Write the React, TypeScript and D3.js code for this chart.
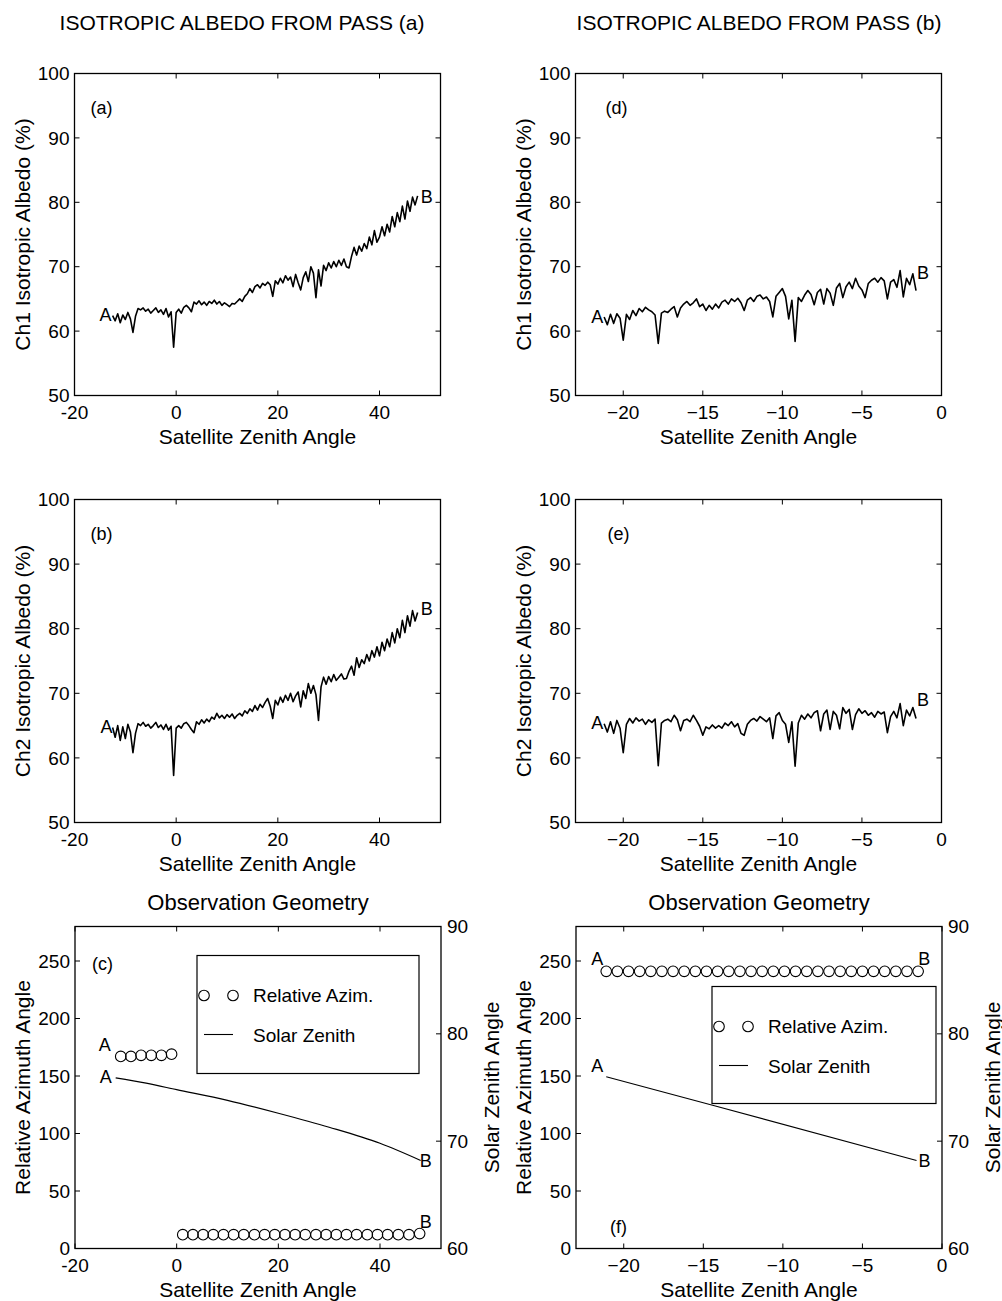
import React from "react";
import * as d3 from "d3";

const FONT = "'Liberation Sans', Arial, Helvetica, sans-serif";

// ---------- Pass (a): satellite zenith sampling ----------
const passAStart = -12.5;
const passAStep = 0.5;
const ch1PassA = [
  62.4, 61.6, 62.7, 61.3, 62.5, 61.8, 62.9, 61.9, 59.8, 62.3,
  63.5, 63.3, 63.6, 63.1, 63.4, 62.8, 63.2, 63.6, 62.9, 63.3,
  62.6, 63.5, 62.2, 63.0, 57.5, 62.9, 63.4, 62.8, 63.7, 64.0,
  63.6, 63.0, 64.5, 64.2, 64.7, 64.1, 64.5, 64.0, 64.6, 64.3,
  64.8, 64.2, 64.6, 64.0, 64.4, 64.1, 63.8, 64.3, 64.2, 64.6,
  65.0, 64.6, 65.4, 65.8, 66.6, 66.0, 66.9, 67.2, 66.7, 67.4,
  67.1, 67.6, 67.2, 65.4, 67.8, 67.3, 68.2, 67.5, 68.6, 67.9,
  68.4, 66.9, 68.8, 67.5, 66.4, 68.3, 69.2, 67.7, 70.0, 69.0,
  65.2, 69.5, 67.0, 70.2, 69.4, 70.6, 69.8, 70.8, 70.0, 71.0,
  70.2, 71.2, 70.0, 69.8, 71.6, 73.0, 71.8, 73.2, 72.4, 73.6,
  72.8, 74.6, 73.4, 75.6, 73.8, 74.6, 76.2, 74.8, 76.6, 75.4,
  77.8, 76.2, 78.4, 77.0, 79.4, 77.4, 80.2, 78.6, 80.8, 79.6, 81.0,
];
const ch2PassA = [
  64.7, 63.2, 65.0, 62.7, 64.8, 63.0, 65.2, 64.0, 60.8, 63.8,
  65.3, 65.0, 65.5, 64.9, 65.2, 64.6, 65.0, 65.5, 64.7, 65.1,
  64.4, 65.2, 64.3, 64.9, 57.3, 64.6, 65.0, 64.6, 65.3, 65.5,
  65.0, 64.4, 63.9, 65.6, 65.2, 65.9, 65.4, 66.0, 65.6, 66.3,
  66.0, 66.9, 66.2, 66.6, 66.1, 66.7, 66.3, 66.8, 66.1, 66.6,
  66.9, 66.5, 67.3, 66.9, 67.6, 67.2, 68.1, 67.4, 68.3, 67.8,
  68.6, 69.2, 68.0, 66.1, 68.9, 68.2, 69.4, 68.6, 69.7, 68.9,
  70.0, 68.7, 69.6, 70.2, 67.9, 70.4, 69.2, 71.5, 70.0, 71.2,
  69.8, 65.8, 71.0, 72.5, 71.4, 72.6, 71.8, 72.9, 72.0, 72.5,
  73.0, 72.2, 72.3, 73.4, 74.2, 72.8, 75.5, 74.0, 75.2, 74.6,
  76.0, 75.0, 76.6, 75.6, 77.2, 75.8, 77.9, 76.6, 78.4, 77.2,
  79.4, 77.8, 80.0, 78.6, 81.3, 79.4, 82.0, 80.4, 82.8, 81.2, 82.5,
];

// ---------- Pass (b) ----------
const passBStart = -21.2;
const passBStep = 0.2;
const ch1PassB = [
  62.2, 61.0, 62.6, 61.2, 62.7, 62.0, 58.6, 62.6, 61.8, 63.2,
  62.4, 63.5, 63.0, 63.7, 63.3, 63.0, 62.5, 58.1, 62.8, 63.1,
  62.9, 63.4, 63.8, 62.2, 63.6, 64.2, 64.6, 64.0, 64.4, 65.0,
  63.8, 64.2, 63.2, 64.0, 63.4, 64.2, 63.6, 64.5, 64.8, 64.2,
  65.0, 64.6, 65.1, 64.4, 63.2, 64.8, 65.2, 64.6, 65.4, 65.6,
  65.0, 65.3, 64.6, 62.2, 65.4, 66.0, 66.6, 65.4, 61.9, 64.8,
  58.4, 65.2, 64.6, 65.6, 66.3, 65.7, 64.1, 66.0, 66.5, 64.2,
  66.6, 65.9, 64.0, 66.7, 67.4, 65.2, 66.9, 67.6, 66.6, 68.2,
  67.0, 66.4, 65.2, 67.4, 67.9, 68.2, 67.6, 68.3, 67.8, 65.0,
  67.6, 68.0, 66.8, 69.4, 65.3, 68.2, 67.2, 68.9, 66.3,
];
const ch2PassB = [
  65.3, 64.0, 65.6, 63.8, 65.8, 64.6, 60.8, 65.2, 66.1, 65.4,
  66.2, 65.7, 66.0, 65.2, 65.9, 65.5, 66.0, 58.8, 65.4, 65.8,
  66.0, 65.6, 66.6, 65.9, 64.2, 65.8, 66.0, 65.6, 66.6, 65.8,
  64.9, 63.5, 64.8, 64.5, 65.1, 64.6, 65.0, 64.6, 65.4, 65.0,
  65.6, 64.8, 65.3, 63.8, 63.5, 65.2, 65.8, 66.1, 65.7, 66.4,
  66.0, 65.6, 66.2, 63.0, 66.5, 67.0, 65.8, 65.2, 62.4, 65.6,
  58.7, 65.4, 66.6, 66.0, 66.8, 66.2, 67.0, 67.3, 64.2, 66.8,
  67.4, 64.4, 67.2, 66.6, 64.5, 67.8, 66.9, 67.5, 64.4, 66.7,
  67.6, 66.9, 67.3, 66.6, 67.0, 66.3, 67.2, 66.8, 67.1, 63.9,
  66.4, 67.2, 66.2, 68.4, 65.0, 67.4, 66.5, 67.8, 66.1,
];

// ---------- Observation geometry ----------
const solarA_x = [-12, -6, 0, 10, 20, 30, 40, 48];
const solarA_y = [75.9, 75.4, 74.8, 73.8, 72.6, 71.3, 69.8, 68.2];
const solarB_x = [-21.1, -14.3, -1.6];
const solarB_y = [76.0, 73.3, 68.2];

const azimA1_x = [-11, -9, -7, -5, -3, -1];
const azimA1_y = [167, 167, 168, 168, 168, 169];
const azimA2_x = [
  1.2, 3.2, 5.2, 7.2, 9.2, 11.2, 13.2, 15.3, 17.3, 19.3, 21.3, 23.3,
  25.3, 27.4, 29.4, 31.4, 33.4, 35.4, 37.5, 39.5, 41.5, 43.6, 45.7, 47.8,
];
const azimA2_y = [
  12, 12, 12, 12, 12, 12, 12, 12, 12, 12, 12, 12,
  12, 12, 12, 12, 12, 12, 12, 12, 12, 12, 12, 13,
];
const azimB_x = [
  -21.1, -20.4, -19.7, -19.0, -18.3, -17.6, -16.9, -16.2, -15.5, -14.8,
  -14.1, -13.4, -12.7, -12.0, -11.3, -10.6, -9.9, -9.2, -8.5, -7.8,
  -7.1, -6.4, -5.7, -5.0, -4.3, -3.6, -2.9, -2.2, -1.5,
];
const azimB_y = [
  241, 241, 241, 241, 241, 241, 241, 241, 241, 241,
  241, 241, 241, 241, 241, 241, 241, 241, 241, 241,
  241, 241, 241, 241, 241, 241, 241, 241, 241,
];

// ---------- Ticks ----------
const xTicksPassA = [-20, 0, 20, 40];
const xTicksPassB = [-20, -15, -10, -5, 0];
const albedoTicks = [50, 60, 70, 80, 90, 100];
const azimTicks = [0, 50, 100, 150, 200, 250];
const solarTicks = [60, 70, 80, 90];

type Box = { l: number; r: number; t: number; b: number };

const COL_A = { l: 74.5, r: 440.5 };
const COL_B = { l: 575.5, r: 941.5 };
const ROW1 = { t: 73.5, b: 395.5 };
const ROW2 = { t: 499.5, b: 822.5 };
const ROW3 = { t: 926.5, b: 1248.5 };

const TICK = 19;
const LAB = 21;
const TL = 5;

function fmt(v: number, minus: string) {
  return v < 0 ? minus + String(Math.abs(v)) : String(v);
}

function Frame(props: {
  box: Box;
  xs: d3.ScaleLinear<number, number>;
  xTicks: number[];
  minus: string;
  ys: d3.ScaleLinear<number, number>;
  yTicks: number[];
  ysR?: d3.ScaleLinear<number, number>;
  yTicksR?: number[];
}) {
  const { box, xs, xTicks, minus, ys, yTicks, ysR, yTicksR } = props;
  const els: React.ReactNode[] = [];
  xTicks.forEach((t, i) => {
    const x = xs(t);
    els.push(<line key={"xb" + i} x1={x} x2={x} y1={box.b} y2={box.b - TL} stroke="#000" strokeWidth={1} />);
    els.push(<line key={"xt" + i} x1={x} x2={x} y1={box.t} y2={box.t + TL} stroke="#000" strokeWidth={1} />);
    els.push(
      <text key={"xl" + i} x={x} y={box.b + 23} textAnchor="middle" fontSize={TICK} fontFamily={FONT}>
        {fmt(t, minus)}
      </text>
    );
  });
  yTicks.forEach((t, i) => {
    const y = ys(t);
    els.push(<line key={"yl" + i} x1={box.l} x2={box.l + TL} y1={y} y2={y} stroke="#000" strokeWidth={1} />);
    if (!ysR) els.push(<line key={"yr" + i} x1={box.r} x2={box.r - TL} y1={y} y2={y} stroke="#000" strokeWidth={1} />);
    els.push(
      <text key={"ylab" + i} x={box.l - 5} y={y} dy="0.35em" textAnchor="end" fontSize={TICK} fontFamily={FONT}>
        {t}
      </text>
    );
  });
  if (ysR && yTicksR) {
    yTicksR.forEach((t, i) => {
      const y = ysR(t);
      els.push(<line key={"rr" + i} x1={box.r} x2={box.r - TL} y1={y} y2={y} stroke="#000" strokeWidth={1} />);
      els.push(
        <text key={"rlab" + i} x={box.r + 6} y={y} dy="0.35em" textAnchor="start" fontSize={TICK} fontFamily={FONT}>
          {t}
        </text>
      );
    });
  }
  els.push(
    <rect key="frame" x={box.l} y={box.t} width={box.r - box.l} height={box.b - box.t} fill="none" stroke="#000" strokeWidth={1.3} />
  );
  return <g>{els}</g>;
}

function AlbedoPanel(props: {
  box: Box;
  xDomain: [number, number];
  xTicks: number[];
  minus: string;
  values: number[];
  start: number;
  step: number;
  yLabel: string;
  tag: string;
  tagDx: number;
  aOff: [number, number];
  bOff: [number, number];
}) {
  const { box, xDomain, xTicks, minus, values, start, step, yLabel, tag, tagDx, aOff, bOff } = props;
  const xs = d3.scaleLinear().domain(xDomain).range([box.l, box.r]);
  const ys = d3.scaleLinear().domain([50, 100]).range([box.b, box.t]);
  const pts: [number, number][] = values.map((v, i) => [start + i * step, v]);
  const line = d3.line<[number, number]>().x((d) => xs(d[0])).y((d) => ys(d[1]));
  const first = pts[0];
  const last = pts[pts.length - 1];
  const cx = (box.l + box.r) / 2;
  const cy = (box.t + box.b) / 2;
  return (
    <g>
      <Frame box={box} xs={xs} xTicks={xTicks} minus={minus} ys={ys} yTicks={albedoTicks} />
      <path d={line(pts) || ""} fill="none" stroke="#000" strokeWidth={1.6} strokeLinejoin="round" />
      <text x={xs(first[0]) + aOff[0]} y={ys(first[1]) + aOff[1]} textAnchor="end" fontSize={18} fontFamily={FONT}>A</text>
      <text x={xs(last[0]) + bOff[0]} y={ys(last[1]) + bOff[1]} textAnchor="start" fontSize={18} fontFamily={FONT}>B</text>
      <text x={box.l + tagDx} y={box.t + 40} fontSize={18} fontFamily={FONT}>{tag}</text>
      <text x={cx} y={box.b + 48} textAnchor="middle" fontSize={LAB} fontFamily={FONT}>Satellite Zenith Angle</text>
      <text transform={`translate(${box.l - 45},${cy}) rotate(-90)`} textAnchor="middle" fontSize={LAB} fontFamily={FONT}>{yLabel}</text>
    </g>
  );
}

function GeometryPanel(props: {
  box: Box;
  xDomain: [number, number];
  xTicks: number[];
  minus: string;
  azGroups: { x: number[]; y: number[] }[];
  solarX: number[];
  solarY: number[];
  legend: { dx: number; dy: number; w: number; h: number };
  tag: string;
  tagPos: [number, number];
  labels: { text: string; at: "azStart" | "azEnd" | "solStart" | "solEnd"; group?: number; dx: number; dy: number; anchor: string }[];
}) {
  const { box, xDomain, xTicks, minus, azGroups, solarX, solarY, legend, tag, tagPos, labels } = props;
  const xs = d3.scaleLinear().domain(xDomain).range([box.l, box.r]);
  const ys = d3.scaleLinear().domain([0, 280]).range([box.b, box.t]);
  const ysR = d3.scaleLinear().domain([60, 90]).range([box.b, box.t]);
  const solarPts: [number, number][] = solarX.map((x, i) => [x, solarY[i]]);
  const line = d3
    .line<[number, number]>()
    .x((d) => xs(d[0]))
    .y((d) => ysR(d[1]))
    .curve(d3.curveMonotoneX);
  const cx = (box.l + box.r) / 2;
  const cy = (box.t + box.b) / 2;
  const lx = box.l + legend.dx;
  const ly = box.t + legend.dy;
  const pos = (lab: (typeof labels)[number]): [number, number] => {
    if (lab.at === "solStart") return [xs(solarX[0]), ysR(solarY[0])];
    if (lab.at === "solEnd") return [xs(solarX[solarX.length - 1]), ysR(solarY[solarY.length - 1])];
    const g = azGroups[lab.group || 0];
    if (lab.at === "azStart") return [xs(g.x[0]), ys(g.y[0])];
    return [xs(g.x[g.x.length - 1]), ys(g.y[g.y.length - 1])];
  };
  return (
    <g>
      <text x={cx} y={box.t - 17} textAnchor="middle" fontSize={22} fontFamily={FONT}>Observation Geometry</text>
      <Frame box={box} xs={xs} xTicks={xTicks} minus={minus} ys={ys} yTicks={azimTicks} ysR={ysR} yTicksR={solarTicks} />
      <path d={line(solarPts) || ""} fill="none" stroke="#000" strokeWidth={1.2} />
      {azGroups.map((g, gi) =>
        g.x.map((x, i) => (
          <circle key={gi + "-" + i} cx={xs(x)} cy={ys(g.y[i])} r={5.3} fill="none" stroke="#000" strokeWidth={1.1} />
        ))
      )}
      <rect x={lx} y={ly} width={legend.w} height={legend.h} fill="#fff" stroke="#000" strokeWidth={1.2} />
      <circle cx={lx + 7} cy={ly + 40} r={5.3} fill="none" stroke="#000" strokeWidth={1.1} />
      <circle cx={lx + 36} cy={ly + 40} r={5.3} fill="none" stroke="#000" strokeWidth={1.1} />
      <text x={lx + 56} y={ly + 46} fontSize={19} fontFamily={FONT}>Relative Azim.</text>
      <line x1={lx + 7} x2={lx + 36} y1={ly + 79} y2={ly + 79} stroke="#000" strokeWidth={1.1} />
      <text x={lx + 56} y={ly + 86} fontSize={19} fontFamily={FONT}>Solar Zenith</text>
      {labels.map((lab, i) => {
        const [px, py] = pos(lab);
        return (
          <text key={"lab" + i} x={px + lab.dx} y={py + lab.dy} textAnchor={lab.anchor} fontSize={18} fontFamily={FONT}>
            {lab.text}
          </text>
        );
      })}
      <text x={tagPos[0]} y={tagPos[1]} fontSize={18} fontFamily={FONT}>{tag}</text>
      <text x={cx} y={box.b + 48} textAnchor="middle" fontSize={LAB} fontFamily={FONT}>Satellite Zenith Angle</text>
      <text transform={`translate(${box.l - 45},${cy}) rotate(-90)`} textAnchor="middle" fontSize={LAB} fontFamily={FONT}>Relative Azimuth Angle</text>
      <text transform={`translate(${box.r + 58},${cy}) rotate(-90)`} textAnchor="middle" fontSize={LAB} fontFamily={FONT}>Solar Zenith Angle</text>
    </g>
  );
}

export default function App() {
  const domA: [number, number] = [-20, 52];
  const domB: [number, number] = [-23, 0];
  return (
    <svg width={1002} height={1301} style={{ position: "absolute", left: 0, top: 0, background: "#fff" }}>
      <rect x={0} y={0} width={1002} height={1301} fill="#fff" />
      <text x={242} y={30} textAnchor="middle" fontSize={21} fontFamily={FONT}>ISOTROPIC ALBEDO FROM PASS (a)</text>
      <text x={759} y={30} textAnchor="middle" fontSize={21} fontFamily={FONT}>ISOTROPIC ALBEDO FROM PASS (b)</text>

      <AlbedoPanel box={{ ...COL_A, ...ROW1 }} xDomain={domA} xTicks={xTicksPassA} minus="-" values={ch1PassA}
        start={passAStart} step={passAStep} yLabel="Ch1 Isotropic Albedo (%)" tag="(a)" tagDx={16} aOff={[-1, 5]} bOff={[3, 7]} />
      <AlbedoPanel box={{ ...COL_A, ...ROW2 }} xDomain={domA} xTicks={xTicksPassA} minus="-" values={ch2PassA}
        start={passAStart} step={passAStep} yLabel="Ch2 Isotropic Albedo (%)" tag="(b)" tagDx={16} aOff={[0, 5]} bOff={[3, 2]} />
      <AlbedoPanel box={{ ...COL_B, ...ROW1 }} xDomain={domB} xTicks={xTicksPassB} minus="−" values={ch1PassB}
        start={passBStart} step={passBStep} yLabel="Ch1 Isotropic Albedo (%)" tag="(d)" tagDx={30} aOff={[-1, 6]} bOff={[1, -12]} />
      <AlbedoPanel box={{ ...COL_B, ...ROW2 }} xDomain={domB} xTicks={xTicksPassB} minus="−" values={ch2PassB}
        start={passBStart} step={passBStep} yLabel="Ch2 Isotropic Albedo (%)" tag="(e)" tagDx={32} aOff={[-1, 5]} bOff={[1, -12]} />

      <GeometryPanel
        box={{ l: 75, r: 441, t: ROW3.t, b: ROW3.b }}
        xDomain={domA}
        xTicks={xTicksPassA}
        minus="-"
        azGroups={[{ x: azimA1_x, y: azimA1_y }, { x: azimA2_x, y: azimA2_y }]}
        solarX={solarA_x}
        solarY={solarA_y}
        legend={{ dx: 122, dy: 29, w: 222, h: 118 }}
        tag="(c)"
        tagPos={[92, 970]}
        labels={[
          { text: "A", at: "azStart", group: 0, dx: -10, dy: -5, anchor: "end" },
          { text: "A", at: "solStart", dx: -4, dy: 5, anchor: "end" },
          { text: "B", at: "solEnd", dx: -1, dy: 7, anchor: "start" },
          { text: "B", at: "azEnd", group: 1, dx: 0, dy: -6, anchor: "start" },
        ]}
      />
      <GeometryPanel
        box={{ l: 576, r: 942, t: ROW3.t, b: ROW3.b }}
        xDomain={domB}
        xTicks={xTicksPassB}
        minus="−"
        azGroups={[{ x: azimB_x, y: azimB_y }]}
        solarX={solarB_x}
        solarY={solarB_y}
        legend={{ dx: 136, dy: 60, w: 224, h: 117 }}
        tag="(f)"
        tagPos={[610, 1233]}
        labels={[
          { text: "A", at: "azStart", group: 0, dx: -3, dy: -6, anchor: "end" },
          { text: "A", at: "solStart", dx: -3, dy: -5, anchor: "end" },
          { text: "B", at: "solEnd", dx: 2, dy: 7, anchor: "start" },
          { text: "B", at: "azEnd", group: 0, dx: 0, dy: -6, anchor: "start" },
        ]}
      />
    </svg>
  );
}
